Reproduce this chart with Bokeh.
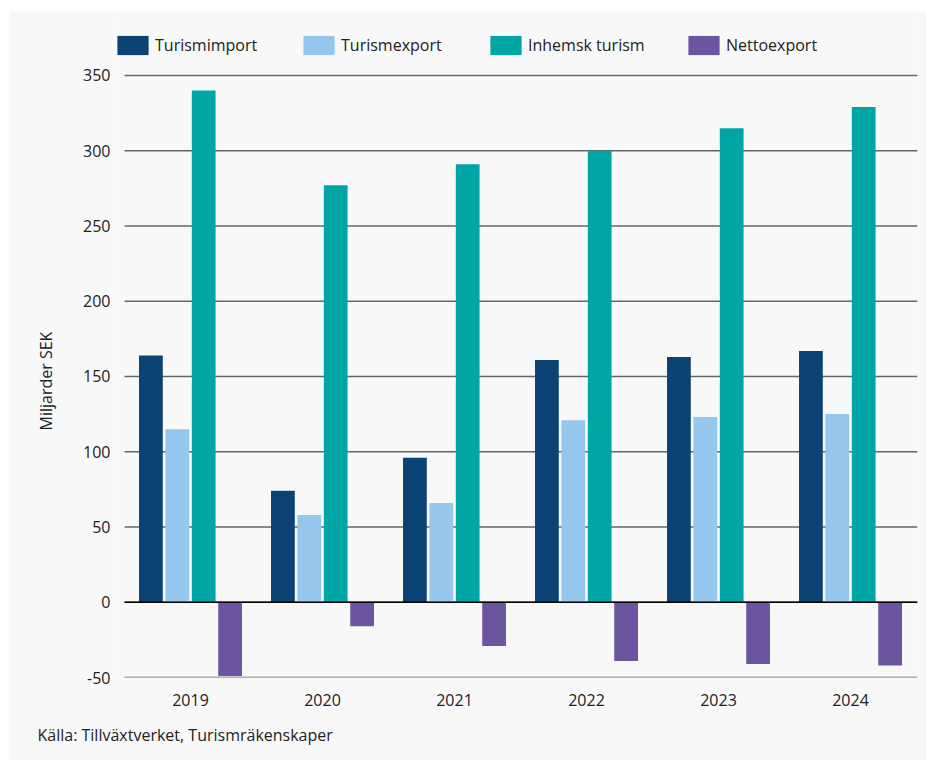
from bokeh.plotting import figure
from bokeh.models import (ColumnDataSource, FixedTicker, Legend, LegendItem, Title, Range1d)
from bokeh.embed import file_html
from bokeh.resources import INLINE

years = ["2019", "2020", "2021", "2022", "2023", "2024"]
turismimport = [164, 74, 96, 161, 163, 167]
turismexport = [115, 58, 66, 121, 123, 125]
inhemsk_turism = [340, 277, 291, 300, 315, 329]
nettoexport = [-49, -16, -29, -39, -41, -42]
series_names = ["Turismimport", "Turismexport", "Inhemsk turism", "Nettoexport"]
colors = ["#0b4474", "#95c6ec", "#00a6a6", "#6b55a0"]
y_ticks = [-50, 0, 50, 100, 150, 200, 250, 300, 350]

FONT = "Open Sans"
TXT = "#222222"

n = len(years)
centers = [i + 0.5 for i in range(n)]

# frame: left edge 11px left of the first category, top reaches the legend row
p = figure(x_range=Range1d(-11 / 132, n + 1 / 132), y_range=Range1d(-50, 392.5), width=917, height=749,
           output_backend="svg", toolbar_location=None,
           min_border_left=104, min_border_right=9, min_border_top=0, min_border_bottom=83)
p.margin = (11, 0, 0, 9)
p.background_fill_color = "#f8f8f8"
p.border_fill_color = "#f8f8f8"
p.outline_line_color = None
p.xgrid.grid_line_color = None
p.ygrid.grid_line_color = None

# gridlines over the category span
grid_src = ColumnDataSource(data=dict(x0=[0] * len(y_ticks), x1=[n + 1 / 132] * len(y_ticks), y=y_ticks))
p.segment(x0="x0", x1="x1", y0="y", y1="y", source=grid_src, line_color="#666666", line_width=1.5)

series = [turismimport, turismexport, inhemsk_turism, nettoexport]
offsets = [-0.3, -0.1, 0.1, 0.3]
renderers = []
for vals, off, c in zip(series, offsets, colors):
    src = ColumnDataSource(data=dict(x=[cx + off for cx in centers], top=vals))
    r = p.vbar(x="x", top="top", bottom=0, width=0.18, source=src, fill_color=c, line_color=None)
    renderers.append(r)

zero_src = ColumnDataSource(data=dict(x0=[0], x1=[n + 1 / 132], y=[0]))
p.segment(x0="x0", x1="x1", y0="y", y1="y", source=zero_src, line_color="#000000", line_width=1.5)

p.yaxis.ticker = FixedTicker(ticks=y_ticks)
p.yaxis.major_label_overrides = {t: str(t) for t in y_ticks}
p.xaxis.ticker = FixedTicker(ticks=centers)
p.xaxis.major_label_overrides = {c: y for c, y in zip(centers, years)}

for ax in (p.xaxis[0], p.yaxis[0]):
    ax.axis_line_color = None
    ax.major_tick_line_color = None
    ax.minor_tick_line_color = None
    ax.major_tick_out = 0
    ax.major_tick_in = 0
    ax.major_label_text_font = FONT
    ax.major_label_text_font_size = "16px"
    ax.major_label_text_color = TXT

p.yaxis.major_label_standoff = 3
p.xaxis.major_label_standoff = 16

# y-axis title, positioned along the -50..350 span
ylab = Title(text="Miljarder SEK", align="left", offset=247, standoff=46,
             vertical_align="middle", text_font=FONT, text_font_size="16px",
             text_color=TXT, text_font_style="normal")
p.add_layout(ylab, "left")

leg_x = [0, 186, 373, 571]
for name, r, lx in zip(series_names, renderers, leg_x):
    lg = Legend(items=[LegendItem(label=name, renderers=[r])], location=(lx, 620),
                orientation="horizontal", glyph_width=39, glyph_height=24,
                label_standoff=3, padding=0, margin=0, spacing=0,
                border_line_color=None, background_fill_alpha=0,
                label_text_font=FONT, label_text_font_size="16px",
                label_text_color=TXT, label_height=24)
    p.add_layout(lg)

src_title = Title(text="Källa: Tillväxtverket, Turismräkenskaper", align="left", offset=-76,
                  standoff=27, text_font=FONT, text_font_size="16px", text_color=TXT,
                  text_font_style="normal")
p.add_layout(src_title, "below")

open("out.html", "w").write(file_html(p, INLINE))
